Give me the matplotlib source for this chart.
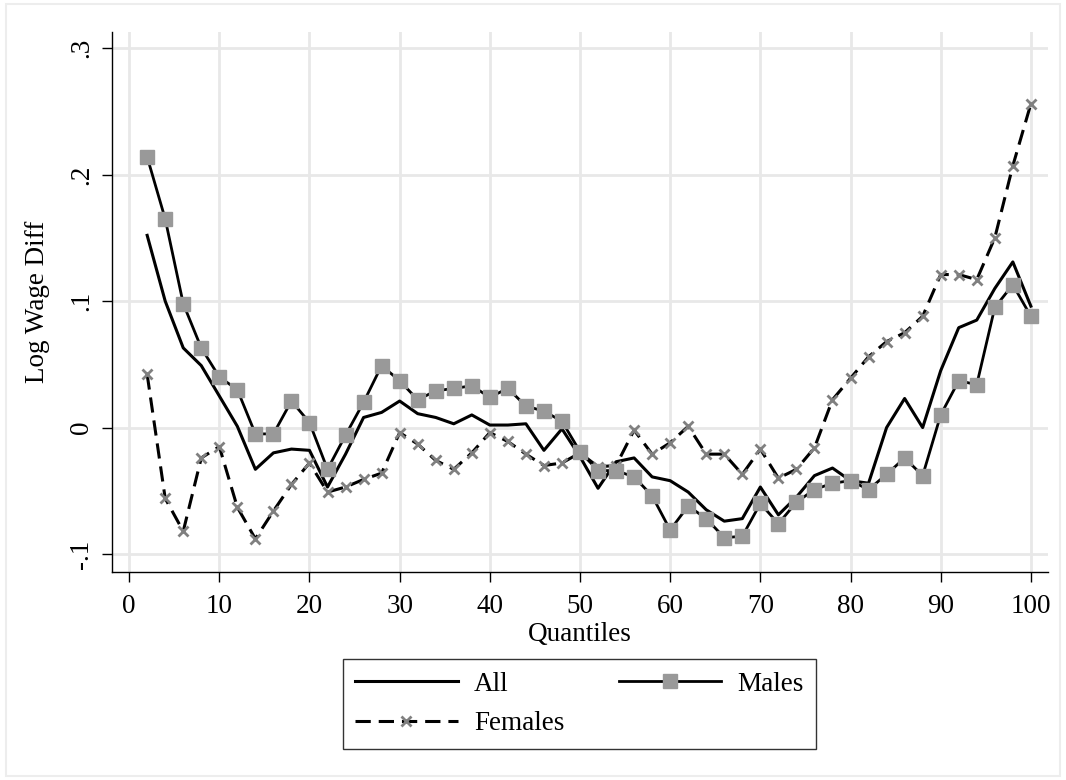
import matplotlib
matplotlib.use("Agg")
import matplotlib.pyplot as plt
from matplotlib.patches import Rectangle

quantiles = list(range(2, 101, 2))

all_vals = [0.152, 0.100, 0.063, 0.049, 0.025, 0.001, -0.033, -0.020, -0.017, -0.018,
            -0.047, -0.021, 0.008, 0.012, 0.021, 0.011, 0.008, 0.003, 0.010, 0.002,
            0.002, 0.003, -0.018, -0.001, -0.023, -0.048, -0.027, -0.024, -0.039, -0.042,
            -0.051, -0.065, -0.074, -0.072, -0.047, -0.069, -0.055, -0.038, -0.032, -0.042,
            -0.044, 0.000, 0.023, 0.000, 0.045, 0.079, 0.085, 0.110, 0.131, 0.096]

males_vals = [0.214, 0.165, 0.098, 0.063, 0.040, 0.030, -0.005, -0.005, 0.021, 0.004,
              -0.033, -0.006, 0.020, 0.049, 0.037, 0.022, 0.029, 0.031, 0.033, 0.024,
              0.031, 0.017, 0.013, 0.005, -0.019, -0.034, -0.034, -0.039, -0.054, -0.081,
              -0.062, -0.072, -0.087, -0.086, -0.060, -0.076, -0.059, -0.049, -0.044, -0.042,
              -0.049, -0.037, -0.024, -0.038, 0.010, 0.037, 0.034, 0.095, 0.113, 0.088]

females_vals = [0.042, -0.056, -0.082, -0.024, -0.015, -0.063, -0.088, -0.066, -0.045, -0.028,
                -0.051, -0.047, -0.041, -0.036, -0.004, -0.013, -0.026, -0.033, -0.020, -0.004,
                -0.011, -0.021, -0.030, -0.028, -0.020, -0.031, -0.030, -0.002, -0.021, -0.012,
                0.001, -0.021, -0.021, -0.037, -0.017, -0.040, -0.033, -0.016, 0.022, 0.039,
                0.056, 0.068, 0.075, 0.088, 0.121, 0.121, 0.117, 0.150, 0.207, 0.256]

xticks = list(range(0, 101, 10))
yticks = [-0.1, 0.0, 0.1, 0.2, 0.3]
ytick_labels = ["-.1", "0", ".1", ".2", ".3"]

plt.rcParams['font.family'] = ['Liberation Serif', 'DejaVu Serif']
FS = 19.5

fig = plt.figure(figsize=(10.66, 7.8), dpi=100)
fig.patch.set_facecolor('white')
fig.patches.append(Rectangle((6 / 1066, 4 / 780), 1054 / 1066, 772 / 780,
                             transform=fig.transFigure, fill=False,
                             edgecolor='#ededed', linewidth=1.5, zorder=0))

ax = fig.add_axes([112 / 1066, 1 - 572 / 780, (1048 - 112) / 1066, (572 - 32) / 780])
ax.set_xlim(-1.9, 101.9)
ax.set_ylim(-0.1142, 0.3128)

for s in ['top', 'right']:
    ax.spines[s].set_visible(False)
for s in ['left', 'bottom']:
    ax.spines[s].set_linewidth(1.0)
    ax.spines[s].set_color('black')

ax.set_xticks(xticks)
ax.set_yticks(yticks)
ax.set_yticklabels(ytick_labels, rotation=90, va='center')
ax.tick_params(axis='both', direction='out', length=7, width=1.0, labelsize=FS)
ax.tick_params(axis='x', pad=9)
ax.tick_params(axis='y', pad=6)
ax.grid(True, color='#e8e8e8', linewidth=2.0)
ax.set_axisbelow(True)

grey = '#999999'
l_all, = ax.plot(quantiles, all_vals, color='black', linewidth=2.2, label='All', zorder=3)
l_male, = ax.plot(quantiles, males_vals, color='black', linewidth=2.0, marker='s',
                  markersize=10.5, markerfacecolor=grey, markeredgecolor=grey,
                  label='Males', zorder=4)
l_fem, = ax.plot(quantiles, females_vals, color='black', linewidth=2.2,
                 linestyle=(0, (5.0, 2.6)), marker='x', markersize=7,
                 markeredgewidth=2.0, markeredgecolor='#808080', label='Females', zorder=3)

ax.set_xlabel('Quantiles', fontsize=FS, labelpad=2)
ax.set_ylabel('Log Wage Diff', fontsize=FS, labelpad=14)

leg = fig.legend([l_all, l_fem, l_male], ['All', 'Females', 'Males'], ncol=2,
                 loc='center', bbox_to_anchor=(579.5 / 1066, 1 - 704 / 780),
                 fontsize=FS, frameon=True, fancybox=False, edgecolor='black',
                 handlelength=3.8, handletextpad=0.6, columnspacing=2.0,
                 labelspacing=0.55, borderpad=0.45, numpoints=1)
leg.get_frame().set_linewidth(1.0)

fig.savefig('out.png', dpi=100, facecolor='white')
